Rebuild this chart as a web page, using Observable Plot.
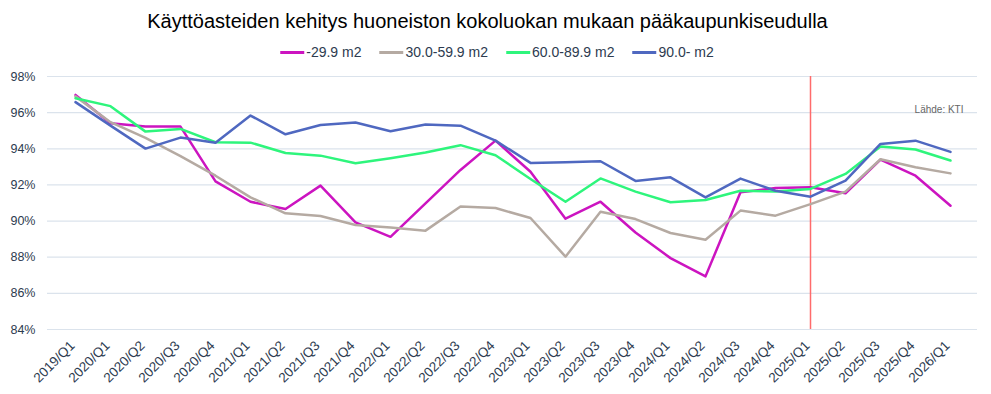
<!DOCTYPE html>
<html>
<head>
<meta charset="utf-8">
<script src="https://cdn.jsdelivr.net/npm/d3@7"></script>
<script src="https://cdn.jsdelivr.net/npm/@observablehq/plot@0.6"></script>
<style>
  html, body { margin: 0; padding: 0; background: #ffffff; }
  body { width: 991px; height: 394px; overflow: hidden; font-family: Arial, "Liberation Sans", sans-serif; }
  #header { position: relative; width: 991px; height: 62px; }
  #title { position: absolute; left: 487.5px; top: 9px; transform: translateX(-50%); white-space: nowrap;
           font-size: 20px; color: #000; line-height: 24px; }
  #legend { position: absolute; left: 497px; top: 44px; transform: translateX(-50%); white-space: nowrap;
            display: flex; align-items: center; font-size: 14px; color: #2d3b4f; line-height: 16px; }
  .item { display: flex; align-items: center; margin: 0 9px; }
  .sw { width: 24px; height: 3px; margin-right: 2px; }
  #chart svg { display: block; }
</style>
</head>
<body>
<div id="header">
  <div id="title">Käyttöasteiden kehitys huoneiston kokoluokan mukaan pääkaupunkiseudulla</div>
  <div id="legend"></div>
</div>
<div id="chart"></div>
<script>
const quarters = ["2019/Q1","2020/Q1","2020/Q2","2020/Q3","2020/Q4","2021/Q1","2021/Q2","2021/Q3","2021/Q4",
  "2022/Q1","2022/Q2","2022/Q3","2022/Q4","2023/Q1","2023/Q2","2023/Q3","2023/Q4","2024/Q1","2024/Q2",
  "2024/Q3","2024/Q4","2025/Q1","2025/Q2","2025/Q3","2025/Q4","2026/Q1"];

const seriesNames = ["-29.9 m2", "30.0-59.9 m2", "60.0-89.9 m2", "90.0- m2"];
const seriesColors = ["#cc14c0", "#b5aaa2", "#2ef57c", "#4f68c0"];

const small = [96.98, 95.41, 95.23, 95.23, 92.2, 91.07, 90.67, 91.96, 89.93, 89.13, 90.98, 92.83, 94.45,
  92.73, 90.13, 91.07, 89.37, 87.95, 86.94, 91.59, 91.83, 91.87, 91.54, 93.4, 92.51, 90.85];
const medium = [96.9, 95.47, 94.6, 93.59, 92.51, 91.31, 90.43, 90.28, 89.78, 89.65, 89.47, 90.81, 90.72,
  90.17, 88.03, 90.52, 90.11, 89.34, 88.97, 90.58, 90.3, 90.94, 91.63, 93.42, 92.98, 92.64];
const large = [96.8, 96.36, 94.95, 95.1, 94.36, 94.34, 93.77, 93.62, 93.2, 93.48, 93.79, 94.2, 93.64,
  92.33, 91.07, 92.36, 91.63, 91.04, 91.17, 91.68, 91.63, 91.78, 92.61, 94.12, 93.96, 93.35];
const xlarge = [96.58, 95.28, 94.01, 94.62, 94.34, 95.84, 94.8, 95.32, 95.45, 94.97, 95.34, 95.28, 94.45,
  93.22, 93.25, 93.31, 92.22, 92.42, 91.31, 92.35, 91.68, 91.35, 92.24, 94.27, 94.45, 93.83];

const yTicks = [84, 86, 88, 90, 92, 94, 96, 98];
const markerQuarter = "2025/Q1";
const sourceNote = "Lähde: KTI";

const seriesValues = [small, medium, large, xlarge];
const data = [];
seriesValues.forEach((vals, s) => vals.forEach((v, i) => data.push({series: seriesNames[s], quarter: quarters[i], value: v})));

// legend
const legend = document.getElementById("legend");
seriesNames.forEach((n, i) => {
  const it = document.createElement("div"); it.className = "item";
  const sw = document.createElement("div"); sw.className = "sw"; sw.style.background = seriesColors[i];
  const tx = document.createElement("span"); tx.textContent = n;
  it.appendChild(sw); it.appendChild(tx); legend.appendChild(it);
});

const chart = Plot.plot({
  width: 991,
  height: 332,
  marginTop: 14,
  marginBottom: 65,
  marginLeft: 47,
  marginRight: 14,
  style: {fontFamily: 'Arial, "Liberation Sans", sans-serif', fontSize: "12.5px", color: "#2d3b4f", background: "#ffffff"},
  x: {type: "point", domain: quarters, padding: 0.5, label: null},
  y: {domain: [84, 98], label: null},
  color: {domain: seriesNames, range: seriesColors},
  marks: [
    Plot.gridY(yTicks, {stroke: "#dbe3ec", strokeOpacity: 1, strokeWidth: 1.2}),
    Plot.axisY(yTicks, {tickSize: 0, tickPadding: 12, tickFormat: d => d + "%", label: null}),
    Plot.axisX({tickRotate: -45, tickSize: 0, tickPadding: 14, dx: -3, fontSize: 13.5, label: null}),
    Plot.ruleX([markerQuarter], {stroke: "#ff6b6b", strokeWidth: 1.5}),
    Plot.line(data, {x: "quarter", y: "value", stroke: "series", strokeWidth: 2.5}),
    Plot.text([sourceNote], {text: d => d, frameAnchor: "top-right", dx: -14, dy: 36, lineAnchor: "bottom",
      textAnchor: "end", fontSize: 10, fill: "#666666"})
  ]
});
document.getElementById("chart").appendChild(chart);
</script>
</body>
</html>
